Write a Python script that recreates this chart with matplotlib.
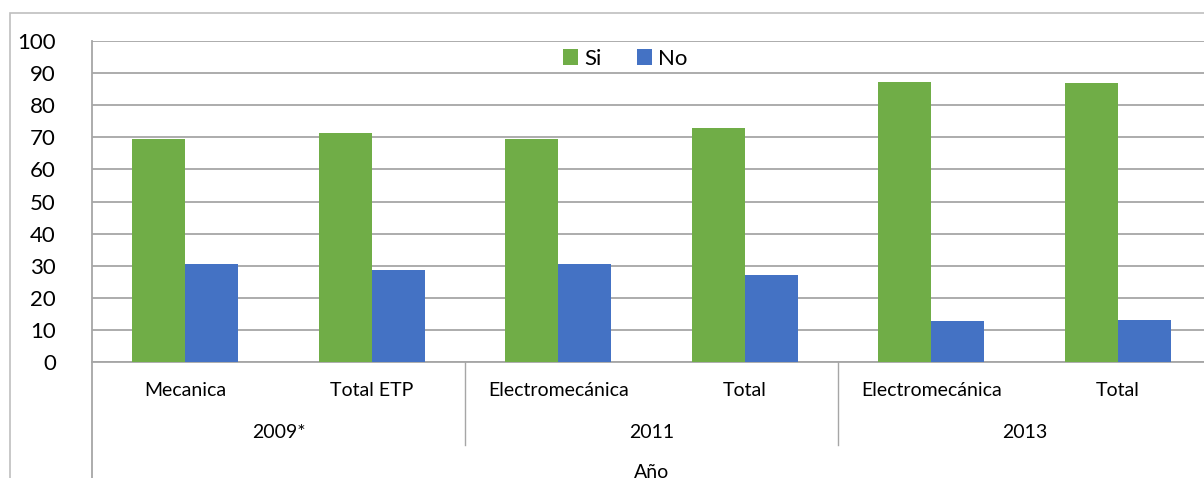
import matplotlib
matplotlib.use("Agg")
import matplotlib.pyplot as plt
from matplotlib.patches import Rectangle
from matplotlib.lines import Line2D
import matplotlib.transforms as mtransforms
import numpy as np

categories = ["Mecanica", "Total ETP", "Electromecánica", "Total", "Electromecánica", "Total"]
years = ["2009*", "2011", "2013"]
si_values = [69.4, 71.4, 69.4, 72.9, 87.1, 86.9]
no_values = [30.6, 28.6, 30.6, 27.1, 12.9, 13.1]
series_names = ["Si", "No"]
yticks = list(range(0, 101, 10))
axis_title = "Año"

GREEN = "#70AD47"
BLUE = "#4472C4"
GRID = "#A6A6A6"
FONT = "Lato"

W, H = 1204, 478
fig = plt.figure(figsize=(W / 100, H / 100), dpi=100)

# Outer chart border
fig.patches.append(Rectangle((10 / W, -0.2), 1.2, 1.2 - 13 / H, transform=fig.transFigure,
                             fill=False, edgecolor="#BFBFBF", linewidth=1.2, zorder=0))

left, right, top, bottom = 92, 1211, 41, 362
ax = fig.add_axes([left / W, 1 - bottom / H, (right - left) / W, (bottom - top) / H])

x = np.arange(len(categories))
bw = 0.284
ax.bar(x - bw / 2, si_values, bw, color=GREEN, label=series_names[0], zorder=3)
ax.bar(x + bw / 2, no_values, bw, color=BLUE, label=series_names[1], zorder=3)

ax.set_xlim(-0.5, len(categories) - 0.5)
ax.set_ylim(0, 100)
ax.set_yticks(yticks)
ax.set_yticklabels([str(v) for v in yticks], fontsize=16, family=FONT)
ax.tick_params(axis="y", length=0, pad=26)
ax.set_xticks([])
ax.yaxis.grid(True, color=GRID, linewidth=1.3, zorder=0)
for s in ["top", "right", "left"]:
    ax.spines[s].set_visible(False)
ax.spines["bottom"].set_color(GRID)
ax.spines["bottom"].set_linewidth(1.3)

trans = mtransforms.blended_transform_factory(ax.transData, ax.transAxes)
px = 1.0 / (bottom - top)  # one pixel in axes fraction

# category labels
for i, c in enumerate(categories):
    ax.text(i, -28 * px, c, transform=trans, ha="center", va="center",
            fontsize=14, family=FONT, clip_on=False)
# year labels
for j, yv in enumerate(years):
    ax.text(2 * j + 0.5, -70 * px, yv, transform=trans, ha="center", va="center",
            fontsize=14, family=FONT, clip_on=False)
# axis title (partly cut off by the bottom edge, as in the reference)
ax.text(0.5, -111 * px, axis_title, transform=ax.transAxes, ha="center", va="center",
        fontsize=14, family=FONT, clip_on=False)

# hierarchy lines
ax.add_line(Line2D([-0.5, -0.5], [1, -0.6], transform=trans, color=GRID, linewidth=1.3, clip_on=False))
for d in [1.5, 3.5]:
    ax.add_line(Line2D([d, d], [0, -83 * px], transform=trans, color=GRID, linewidth=1.0, clip_on=False))

leg = fig.legend(loc="center", bbox_to_anchor=(625 / W, 1 - 59 / H), ncol=2, frameon=False,
                 prop={"family": FONT, "size": 16}, handlelength=0.7, handleheight=0.7,
                 handletextpad=0.25, columnspacing=1.6)

fig.savefig("out.png", dpi=100)
